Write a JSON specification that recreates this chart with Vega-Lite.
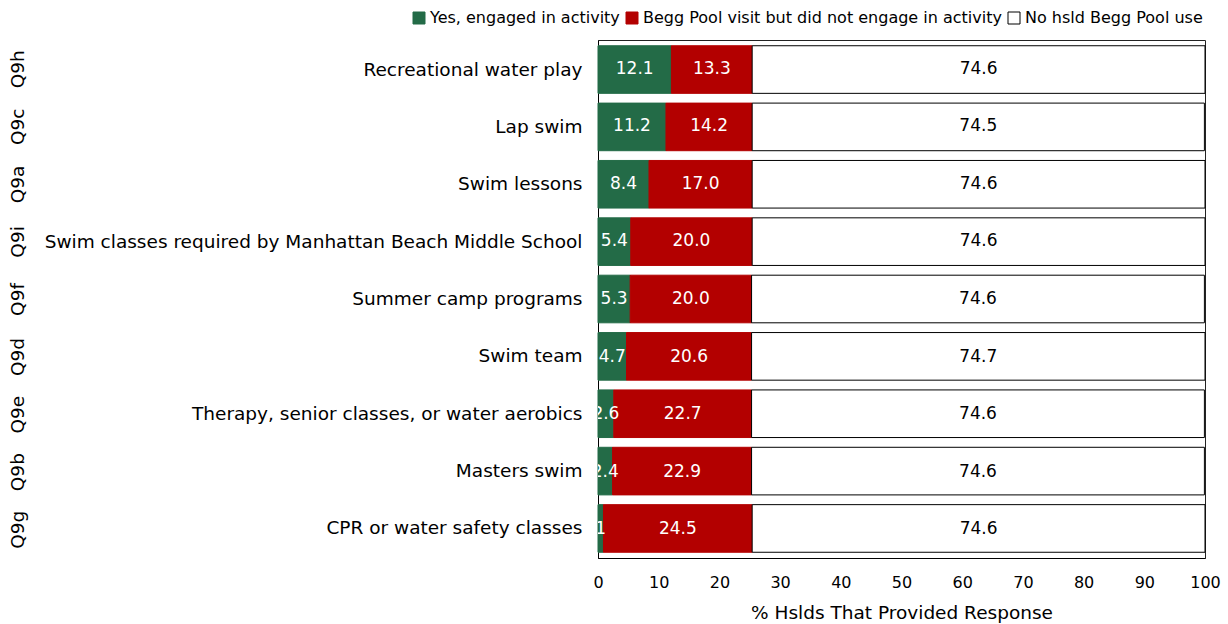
{
  "$schema": "https://vega.github.io/schema/vega-lite/v6.json",
  "width": 607,
  "height": 518,
  "autosize": {"type": "none"},
  "padding": {"left": 598, "top": 40, "right": 23, "bottom": 66},
  "background": "white",
  "config": {
    "view": {"stroke": "#222", "strokeWidth": 1},
    "font": "DejaVu Sans",
    "axis": {"labelFont": "DejaVu Sans", "titleFont": "DejaVu Sans", "labelColor": "#000", "titleColor": "#000", "domainColor": "#000", "grid": false, "ticks": false}
  },
  "data": {
    "values": [
      {"code": "Q9h", "activity": "Recreational water play", "category": "Yes, engaged in activity", "value": 12.1, "label": "12.1", "ord": 1},
      {"code": "Q9h", "activity": "Recreational water play", "category": "Begg Pool visit but did not engage in activity", "value": 13.3, "label": "13.3", "ord": 2},
      {"code": "Q9h", "activity": "Recreational water play", "category": "No hsld Begg Pool use", "value": 74.6, "label": "74.6", "ord": 3},
      {"code": "Q9c", "activity": "Lap swim", "category": "Yes, engaged in activity", "value": 11.2, "label": "11.2", "ord": 1},
      {"code": "Q9c", "activity": "Lap swim", "category": "Begg Pool visit but did not engage in activity", "value": 14.2, "label": "14.2", "ord": 2},
      {"code": "Q9c", "activity": "Lap swim", "category": "No hsld Begg Pool use", "value": 74.5, "label": "74.5", "ord": 3},
      {"code": "Q9a", "activity": "Swim lessons", "category": "Yes, engaged in activity", "value": 8.4, "label": "8.4", "ord": 1},
      {"code": "Q9a", "activity": "Swim lessons", "category": "Begg Pool visit but did not engage in activity", "value": 17.0, "label": "17.0", "ord": 2},
      {"code": "Q9a", "activity": "Swim lessons", "category": "No hsld Begg Pool use", "value": 74.6, "label": "74.6", "ord": 3},
      {"code": "Q9i", "activity": "Swim classes required by Manhattan Beach Middle School", "category": "Yes, engaged in activity", "value": 5.4, "label": "5.4", "ord": 1},
      {"code": "Q9i", "activity": "Swim classes required by Manhattan Beach Middle School", "category": "Begg Pool visit but did not engage in activity", "value": 20.0, "label": "20.0", "ord": 2},
      {"code": "Q9i", "activity": "Swim classes required by Manhattan Beach Middle School", "category": "No hsld Begg Pool use", "value": 74.6, "label": "74.6", "ord": 3},
      {"code": "Q9f", "activity": "Summer camp programs", "category": "Yes, engaged in activity", "value": 5.3, "label": "5.3", "ord": 1},
      {"code": "Q9f", "activity": "Summer camp programs", "category": "Begg Pool visit but did not engage in activity", "value": 20.0, "label": "20.0", "ord": 2},
      {"code": "Q9f", "activity": "Summer camp programs", "category": "No hsld Begg Pool use", "value": 74.6, "label": "74.6", "ord": 3},
      {"code": "Q9d", "activity": "Swim team", "category": "Yes, engaged in activity", "value": 4.7, "label": "4.7", "ord": 1},
      {"code": "Q9d", "activity": "Swim team", "category": "Begg Pool visit but did not engage in activity", "value": 20.6, "label": "20.6", "ord": 2},
      {"code": "Q9d", "activity": "Swim team", "category": "No hsld Begg Pool use", "value": 74.7, "label": "74.7", "ord": 3},
      {"code": "Q9e", "activity": "Therapy, senior classes, or water aerobics", "category": "Yes, engaged in activity", "value": 2.6, "label": "2.6", "ord": 1},
      {"code": "Q9e", "activity": "Therapy, senior classes, or water aerobics", "category": "Begg Pool visit but did not engage in activity", "value": 22.7, "label": "22.7", "ord": 2},
      {"code": "Q9e", "activity": "Therapy, senior classes, or water aerobics", "category": "No hsld Begg Pool use", "value": 74.6, "label": "74.6", "ord": 3},
      {"code": "Q9b", "activity": "Masters swim", "category": "Yes, engaged in activity", "value": 2.4, "label": "2.4", "ord": 1},
      {"code": "Q9b", "activity": "Masters swim", "category": "Begg Pool visit but did not engage in activity", "value": 22.9, "label": "22.9", "ord": 2},
      {"code": "Q9b", "activity": "Masters swim", "category": "No hsld Begg Pool use", "value": 74.6, "label": "74.6", "ord": 3},
      {"code": "Q9g", "activity": "CPR or water safety classes", "category": "Yes, engaged in activity", "value": 0.9, "label": "1", "ord": 1},
      {"code": "Q9g", "activity": "CPR or water safety classes", "category": "Begg Pool visit but did not engage in activity", "value": 24.5, "label": "24.5", "ord": 2},
      {"code": "Q9g", "activity": "CPR or water safety classes", "category": "No hsld Begg Pool use", "value": 74.6, "label": "74.6", "ord": 3}
    ]
  },
  "layer": [
    {
      "mark": {"type": "bar", "strokeWidth": 1},
      "encoding": {
        "y": {
          "field": "activity", "type": "nominal",
          "sort": ["Recreational water play", "Lap swim", "Swim lessons", "Swim classes required by Manhattan Beach Middle School", "Summer camp programs", "Swim team", "Therapy, senior classes, or water aerobics", "Masters swim", "CPR or water safety classes"],
          "scale": {"paddingInner": 0.17, "paddingOuter": 0.1},
          "axis": {"title": null, "orient": "left", "labelFontSize": 18.5, "labelPadding": 16, "labelLimit": 700, "domain": true}
        },
        "x": {
          "field": "value", "type": "quantitative", "stack": "zero",
          "scale": {"domain": [0, 100], "nice": false},
          "axis": {"title": "% Hslds That Provided Response", "values": [0, 10, 20, 30, 40, 50, 60, 70, 80, 90, 100], "labelFlush": false, "labelFontSize": 16, "labelPadding": 16, "titleFontSize": 18.5, "titleFontWeight": "normal", "titlePadding": 13}
        },
        "order": {"field": "ord", "type": "quantitative"},
        "color": {
          "field": "category", "type": "nominal",
          "scale": {"domain": ["Yes, engaged in activity", "Begg Pool visit but did not engage in activity", "No hsld Begg Pool use"], "range": ["#236b47", "#b30000", "#ffffff"]},
          "legend": {"title": null, "orient": "none", "legendX": -187, "legendY": -30, "direction": "horizontal", "symbolType": "square", "symbolSize": 144, "symbolStrokeWidth": 1, "labelFontSize": 16, "labelFont": "DejaVu Sans", "labelColor": "#000", "labelOffset": 3, "columnPadding": 4, "labelLimit": 500}
        },
        "stroke": {
          "field": "category", "type": "nominal",
          "scale": {"domain": ["Yes, engaged in activity", "Begg Pool visit but did not engage in activity", "No hsld Begg Pool use"], "range": ["#236b47", "#b30000", "#000000"]},
          "legend": {"title": null, "orient": "none", "legendX": -187, "legendY": -30, "direction": "horizontal", "symbolType": "square", "symbolSize": 144, "symbolStrokeWidth": 1, "labelFontSize": 16, "labelFont": "DejaVu Sans", "labelColor": "#000", "labelOffset": 3, "columnPadding": 4, "labelLimit": 500}
        }
      }
    },
    {
      "mark": {"type": "text", "fontSize": 17, "font": "DejaVu Sans", "clip": true, "baseline": "middle", "align": "center"},
      "encoding": {
        "y": {
          "field": "code", "type": "nominal",
          "sort": ["Q9h", "Q9c", "Q9a", "Q9i", "Q9f", "Q9d", "Q9e", "Q9b", "Q9g"],
          "scale": {"paddingInner": 0.17, "paddingOuter": 0.1},
          "axis": {"title": null, "orient": "left", "offset": 555, "labelPadding": 16, "labelAngle": -90, "labelFontSize": 18.5, "domain": false}
        },
        "x": {"field": "value", "type": "quantitative", "stack": "zero", "bandPosition": 0.5},
        "detail": {"field": "category"},
        "order": {"field": "ord", "type": "quantitative"},
        "text": {"field": "label"},
        "color": {"condition": {"test": "datum.category === 'No hsld Begg Pool use'", "value": "#000000"}, "value": "#ffffff"}
      }
    }
  ],
  "resolve": {"scale": {"y": "independent"}, "axis": {"y": "independent"}}
}
